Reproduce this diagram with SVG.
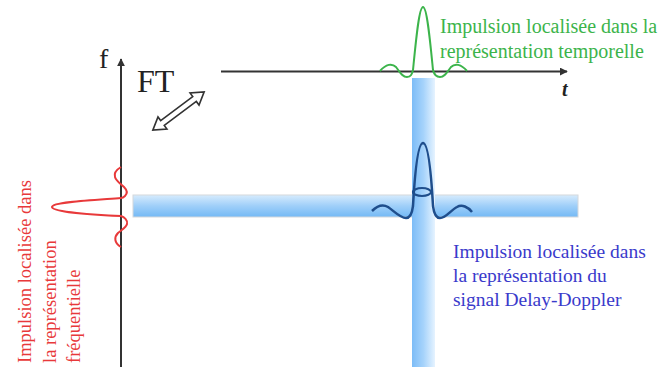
<svg xmlns="http://www.w3.org/2000/svg" width="660" height="367" viewBox="0 0 660 367">
  <style>
    .axis { stroke: #333; stroke-width: 2; fill: none; }
  </style>
  <defs>
    <linearGradient id="gV" x1="0" y1="0" x2="1" y2="0">
      <stop offset="0" stop-color="#7cbcf7"/>
      <stop offset="0.5" stop-color="#a6d3fb"/>
      <stop offset="1" stop-color="#e6f3ff"/>
    </linearGradient>
    <linearGradient id="gH" x1="0" y1="0" x2="0" y2="1">
      <stop offset="0" stop-color="#d6ebfd"/>
      <stop offset="0.5" stop-color="#9fcff9"/>
      <stop offset="1" stop-color="#74b9f5"/>
    </linearGradient>
    <marker id="arr" viewBox="0 0 10 10" refX="9" refY="5" markerWidth="4" markerHeight="4" orient="auto">
      <path d="M0,0 L10,5 L0,10 z" fill="#333"/>
    </marker>
  </defs>

  <g id="bar-doppler">
    <rect x="133" y="195" width="445" height="22" fill="url(#gH)" stroke="#d4d8dc" stroke-width="1"/>
  </g>
  <g id="bar-delay">
    <rect x="412" y="78" width="23" height="290" fill="url(#gV)"/>
  </g>

  <g id="connectors">
    <line class="axis" x1="121" y1="367" x2="121" y2="59" marker-end="url(#arr)"/>
    <line class="axis" x1="221" y1="71.5" x2="567" y2="71.5" marker-end="url(#arr)"/>
    <polygon points="-32,0 -20,-7.5 -20,-3 20,-3 20,-7.5 32,0 20,7.5 20,3 -20,3 -20,7.5" transform="translate(178.5,111) rotate(-36.7)" fill="#fff" stroke="#333" stroke-width="1.6" stroke-linejoin="miter"/>
  </g>

  <g id="labels-axes" font-family="Liberation Serif, serif" fill="#222">
    <text x="99" y="68" font-size="28">f</text>
    <text x="137" y="92" font-size="32">FT</text>
    <text x="562" y="96" font-size="20" font-style="italic" font-weight="bold">t</text>
  </g>

  <g id="pulse-temporal">
    <path d="M380,71 C386,64 392,63 396,67 C400,72 402,77 407,77 C411,77 412,74 413,70 C416,40 419,7 423,7 C427,7 430,40 433,70 C434,74 436,77 440,77 C445,77 447,72 451,67 C455,63 461,64 467,71" fill="none" stroke="#3cb44b" stroke-width="2"/>
    <text x="440" y="33" font-family="Liberation Serif, serif" font-size="20" fill="#3cb44b">Impulsion localisée dans la</text>
    <text x="440" y="58" font-family="Liberation Serif, serif" font-size="20" fill="#3cb44b">représentation temporelle</text>
  </g>

  <g id="pulse-frequency">
    <path d="M121,167 C116,170 114,174 115,177 C116,181 121,184 124,187 C127,190 128,193 125,196 C123,198 122,198 121,198 C95,200 52,202 52,207 C52,212 95,215 121,216 C124,217 128,220 127,224 C126,228 121,230 118,233 C114,237 114,243 121,247" fill="none" stroke="#e8393a" stroke-width="2"/>
    <text transform="translate(31,363) rotate(-90)" font-family="Liberation Serif, serif" font-size="18.5" fill="#e8393a">Impulsion localisée dans</text>
    <text transform="translate(56,363) rotate(-90)" font-family="Liberation Serif, serif" font-size="18.5" fill="#e8393a">la représentation</text>
    <text transform="translate(80,363) rotate(-90)" font-family="Liberation Serif, serif" font-size="18.5" fill="#e8393a">fréquentielle</text>
  </g>

  <g id="pulse-delay-doppler">
    <path d="M372,211 C377,206 383,204 388,207 C394,211 400,218 406,218 C410,218 412,214 413,206 C415,170 418,143 423,143 C428,143 431,170 433,206 C434,214 436,218 440,218 C446,218 451,210 457,207 C462,204 468,207 472,212" fill="none" stroke="#1f4e8c" stroke-width="2.5"/>
    <ellipse cx="422" cy="192" rx="9" ry="4" fill="none" stroke="#1f4e8c" stroke-width="2.2"/>
    <text x="453" y="258" font-family="Liberation Serif, serif" font-size="19.5" fill="#3a3acb">Impulsion localisée dans</text>
    <text x="453" y="282" font-family="Liberation Serif, serif" font-size="19.5" fill="#3a3acb">la représentation du</text>
    <text x="453" y="306" font-family="Liberation Serif, serif" font-size="19.5" fill="#3a3acb">signal Delay-Doppler</text>
  </g>
</svg>
